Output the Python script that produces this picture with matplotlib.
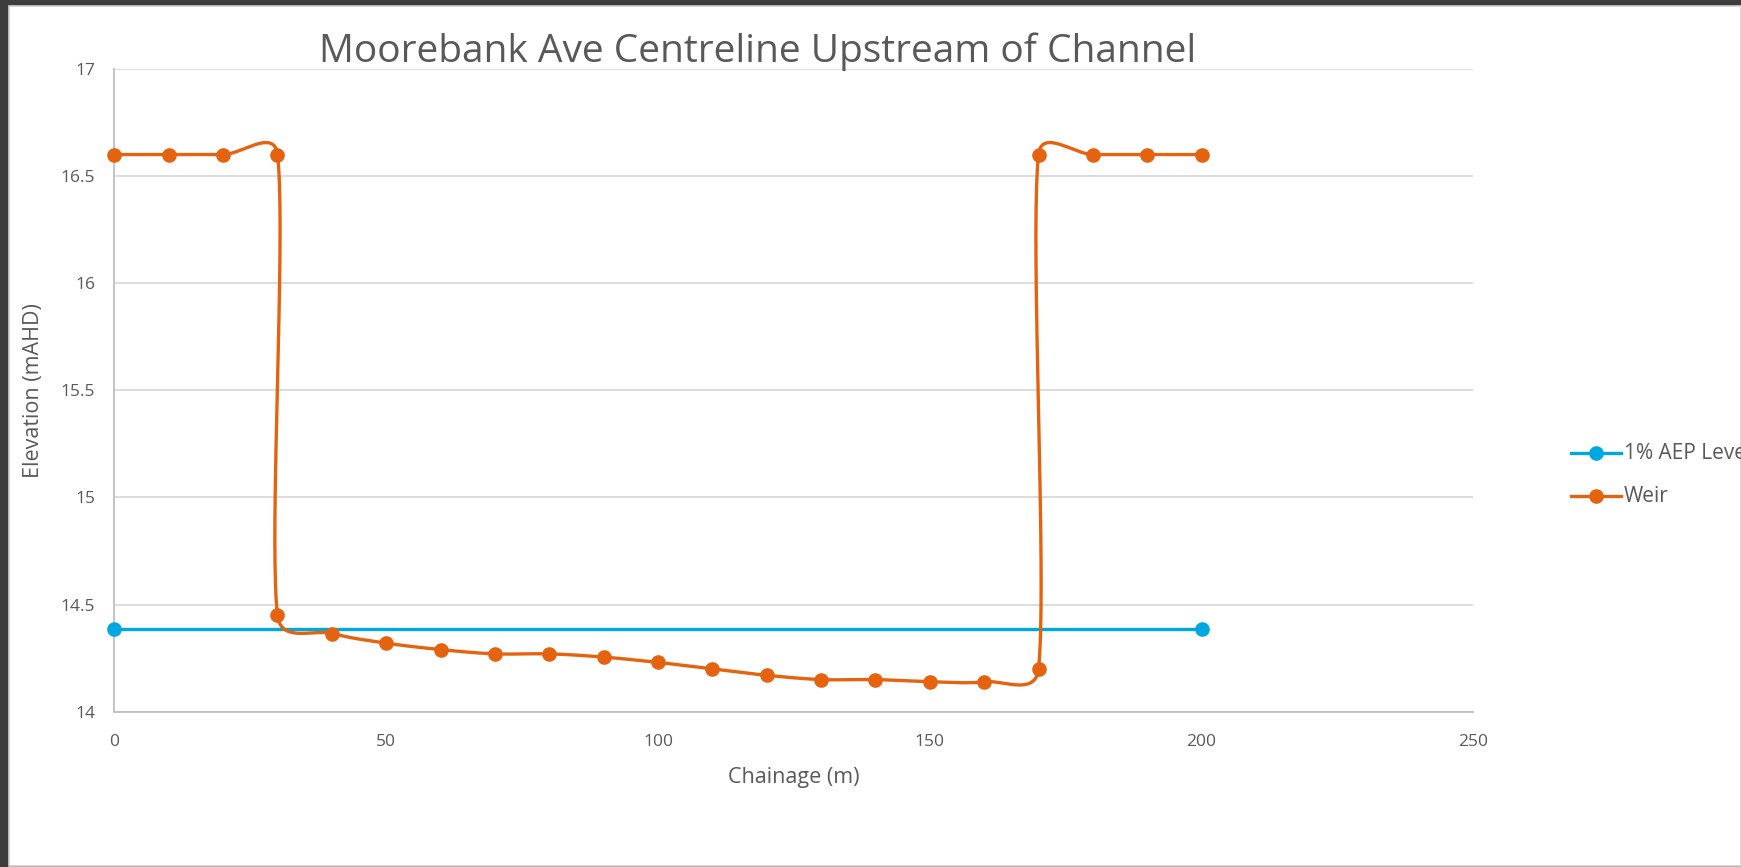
import matplotlib

matplotlib.use("Agg")
import matplotlib.pyplot as plt
import numpy as np
from matplotlib.lines import Line2D
from matplotlib.patches import Rectangle

plt.rcParams["font.family"] = ["Open Sans", "DejaVu Sans"]

TITLE = "Moorebank Ave Centreline Upstream of Channel"
X_LABEL = "Chainage (m)"
Y_LABEL = "Elevation (mAHD)"

# 1% AEP flood level
aep_x = [0, 200]
aep_y = [14.385, 14.385]

# weir crest profile (two points at the wall chainages 30 and 170)
weir_x = [0, 10, 20, 30, 30, 40, 50, 60, 70, 80, 90, 100, 110, 120,
          130, 140, 150, 160, 170, 170, 180, 190, 200]
weir_y = [16.6, 16.6, 16.6, 16.6, 14.45, 14.365, 14.32, 14.29, 14.27, 14.27,
          14.255, 14.23, 14.20, 14.17, 14.15, 14.15, 14.14, 14.14, 14.20,
          16.6, 16.6, 16.6, 16.6]

series_names = ["1% AEP Level", "Weir"]

BLUE = "#00a8e2"
ORANGE = "#e5620f"
TXT = "#595959"
GRID = "#d9d9d9"


def excel_smooth(ax, xs, ys, n=40):
    """Excel-style smoothed line: cubic Bezier segments built in screen space."""
    pts = ax.transData.transform(np.column_stack([xs, ys]))
    out = [pts[0]]
    m = len(pts)
    for i in range(m - 1):
        p0 = pts[i - 1] if i > 0 else pts[i]
        p1, p2 = pts[i], pts[i + 1]
        p3 = pts[i + 2] if i + 2 < m else pts[i + 1]
        d02 = np.hypot(*(p2 - p0))
        d12 = np.hypot(*(p2 - p1))
        d13 = np.hypot(*(p3 - p1))
        f = 1 / 6 if d02 == 0 else min(1 / 6, d12 / (2 * d02))
        g = 1 / 6 if d13 == 0 else min(1 / 6, d12 / (2 * d13))
        c1 = p1 + (p2 - p0) * f
        c2 = p2 - (p3 - p1) * g
        t = np.linspace(0, 1, n)[1:, None]
        seg = ((1 - t) ** 3) * p1 + 3 * ((1 - t) ** 2) * t * c1 + 3 * (1 - t) * t ** 2 * c2 + t ** 3 * p2
        out.extend(seg)
    out = ax.transData.inverted().transform(np.array(out))
    return out[:, 0], out[:, 1]


fig = plt.figure(figsize=(17.41, 8.67), dpi=100)
fig.patch.set_facecolor("#3d3d3d")
fig.add_artist(Rectangle((9 / 1741, 1 / 867), 1 - 9 / 1741, 1 - 7 / 867,
                         transform=fig.transFigure, facecolor="white",
                         edgecolor="#d0d0d0", linewidth=1.2, zorder=0))

ax = fig.add_axes([0.0657, 0.1791, 0.7806, 0.7415])
ax.set_facecolor("none")
ax.set_xlim(0, 250)
ax.set_ylim(14, 17)
ax.set_xticks(np.arange(0, 251, 50))
ax.set_yticks([14, 14.5, 15, 15.5, 16, 16.5, 17])
ax.set_yticklabels(["14", "14.5", "15", "15.5", "16", "16.5", "17"])
ax.grid(axis="y", color=GRID, linewidth=1.3)
ax.set_axisbelow(True)
for side in ("top", "right"):
    ax.spines[side].set_visible(False)
for side in ("left", "bottom"):
    ax.spines[side].set_color("#bfbfbf")
    ax.spines[side].set_linewidth(1.3)
ax.tick_params(length=0, labelsize=12.5, labelcolor=TXT)
ax.tick_params(axis="y", pad=14)
ax.tick_params(axis="x", pad=16)

ax.plot(aep_x, aep_y, color=BLUE, linewidth=2.4, marker="o", markersize=9.5,
        clip_on=False, zorder=3)
sx, sy = excel_smooth(ax, weir_x, weir_y)
ax.plot(sx, sy, color=ORANGE, linewidth=2.4, clip_on=False, zorder=4)
ax.plot(weir_x, weir_y, linestyle="none", color=ORANGE, marker="o",
        markersize=9.5, clip_on=False, zorder=5)

ax.set_xlabel(X_LABEL, fontsize=15.5, color=TXT, labelpad=12)
ax.set_ylabel(Y_LABEL, fontsize=15.5, color=TXT, labelpad=12)
fig.text(0.435, 0.94, TITLE, fontsize=28, color=TXT, ha="center", va="center")

# legend, drawn by hand so it sits (and clips) like the original
for name, col, ly in zip(series_names, [BLUE, ORANGE], [0.4775, 0.4279]):
    fig.add_artist(Line2D([0.9024, 0.9311], [ly, ly], color=col, linewidth=2.4,
                          transform=fig.transFigure))
    fig.add_artist(Line2D([0.9167], [ly], color=col, marker="o", markersize=9.5,
                          transform=fig.transFigure))
    fig.text(0.9328, ly, name, fontsize=15, color=TXT, ha="left", va="center")

fig.savefig("out.png", dpi=100, facecolor=fig.get_facecolor())
